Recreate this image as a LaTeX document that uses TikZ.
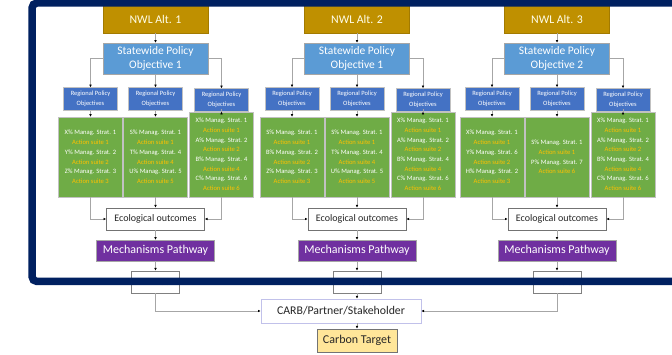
\documentclass[tikz,border=0pt]{standalone}
\usepackage{fontspec}
\setmainfont{Carlito}
\usetikzlibrary{arrows.meta}
\definecolor{navy}{HTML}{002060}
\definecolor{nwlgold}{HTML}{BF9000}
\definecolor{swblue}{HTML}{5B9BD5}
\definecolor{regblue}{HTML}{4472C4}
\definecolor{grnfill}{HTML}{6FAC46}
\definecolor{suite}{HTML}{FFC000}
\definecolor{mechpurple}{HTML}{7030A0}
\definecolor{tgtfill}{HTML}{FFE699}
\definecolor{linegray}{HTML}{A6A6A6}
\newcommand\ms[2]{#1\% Manag. Strat. #2}
\newcommand\as[1]{{\color{suite}Action suite #1}}
\newcommand\drawcol[8]{%
  \node[nwlbox] (n#1) at (#2,19) {NWL Alt. #3};
  \node[swbox] (s#1) at (#2,58.5) {Statewide Policy\\Objective #4};
  \node[regbox] (ra#1) at ({#2-65},99) {Regional Policy\\Objectives};
  \node[regbox] (rb#1) at (#2,99) {Regional Policy\\Objectives};
  \node[regbox] (rc#1) at ({#2+66},100) {Regional Policy\\Objectives};
  \node[grnbox, minimum height=80pt] (ga#1) at ({#2-65},157) {#5};
  \node[grnbox, minimum height=80pt] (gb#1) at (#2,157) {#6};
  \node[grnbox, minimum height=85pt] (gc#1) at ({#2+66},154.5) {#7};
  \node[ecobox] (e#1) at (#2,219) {Ecological outcomes};
  \node[mechbox] (m#1) at (#2,250.5) {Mechanisms Pathway};
  \node[costbox] (c#1) at (#2,282) {Costs (\$)};
  \draw[conn] (n#1) -- (s#1);
  \draw[conn] (s#1.west) -| (ra#1.north);
  \draw[conn] (s#1) -- (rb#1);
  \draw[conn] (s#1.east) -| (rc#1.north);
  \draw[conn] (ra#1) -- (ga#1);
  \draw[conn] (rb#1) -- (gb#1);
  \draw[conn] (rc#1) -- (gc#1);
  \draw[conn] (ga#1.south) |- (e#1.west);
  \draw[conn] (gb#1) -- (e#1);
  \draw[conn] (gc#1.south) |- (e#1.east);
  \draw[conn] (e#1) -- (m#1);
  \draw[conn] (m#1) -- (c#1);
}
\begin{document}
\begin{tikzpicture}[x=1pt,y=-1pt,
  conn/.style={draw=linegray, line width=0.6pt, -{Latex[color=black,length=2.6pt,width=2.6pt]}},
  nwlbox/.style={fill=nwlgold, draw=nwlgold!85!black, line width=0.5pt, inner sep=0pt, minimum width=105pt, minimum height=28pt, text=white!92!yellow, font=\fontsize{11.8}{13}\selectfont},
  swbox/.style={fill=swblue, draw=linegray, line width=0.5pt, inner sep=0pt, minimum width=105pt, minimum height=31pt, align=center, text=white, font=\fontsize{11.5}{14}\selectfont},
  regbox/.style={fill=regblue, draw=linegray!70, line width=0.5pt, inner sep=0pt, minimum width=54pt, minimum height=23pt, align=center, text=white, font=\fontsize{6.5}{10}\selectfont},
  grnbox/.style={fill=grnfill, draw=linegray!70, line width=0.5pt, inner sep=0pt, minimum width=64pt, align=center, text=white, font=\fontsize{6.6}{9.7}\selectfont},
  ecobox/.style={fill=white, draw=gray!90!black, line width=0.8pt, inner sep=0pt, minimum width=98pt, minimum height=22pt, font=\fontsize{10}{12}\selectfont, text=black!85},
  mechbox/.style={fill=mechpurple, draw=linegray, line width=0.5pt, inner sep=0pt, minimum width=118pt, minimum height=21pt, text=white, font=\fontsize{12}{14}\selectfont},
  costbox/.style={fill=white, draw=gray, line width=0.8pt, inner sep=0pt, minimum width=48pt, minimum height=22pt, font=\fontsize{8}{9}\selectfont, text=black!80},
  carbbox/.style={fill=white, draw=linegray!60!blue!40!white, line width=0.8pt, inner sep=0pt, minimum width=160pt, minimum height=24pt, font=\fontsize{11.8}{13}\selectfont, text=black!85},
  tgtbox/.style={fill=tgtfill, draw=gray!90!black, line width=0.8pt, inner sep=0pt, minimum width=80pt, minimum height=23pt, font=\fontsize{12}{13}\selectfont, text=black!85}
]
\useasboundingbox (0,0) rectangle (672,355);
\fill[white] (0,0) rectangle (672,355);

\drawcol{1}{155.5}{1}{1}%
  {\ms{X}{1}\\\as{1}\\\ms{Y}{2}\\\as{2}\\\ms{Z}{3}\\\as{3}}%
  {\ms{S}{1}\\\as{1}\\\ms{T}{4}\\\as{4}\\\ms{U}{5}\\\as{5}}%
  {\ms{X}{1}\\\as{1}\\\ms{A}{2}\\\as{2}\\\ms{B}{4}\\\as{4}\\\ms{C}{6}\\\as{6}}{}
\drawcol{2}{357}{2}{1}%
  {\ms{S}{1}\\\as{1}\\\ms{B}{2}\\\as{2}\\\ms{Z}{3}\\\as{3}}%
  {\ms{S}{1}\\\as{1}\\\ms{T}{4}\\\as{4}\\\ms{U}{5}\\\as{5}}%
  {\ms{X}{1}\\\as{1}\\\ms{A}{2}\\\as{2}\\\ms{B}{4}\\\as{4}\\\ms{C}{6}\\\as{6}}{}
\drawcol{3}{557}{3}{2}%
  {\ms{X}{1}\\\as{1}\\\ms{Y}{6}\\\as{2}\\\ms{H}{2}\\\as{3}}%
  {\ms{S}{1}\\\as{1}\\\ms{P}{7}\\\as{6}}%
  {\ms{X}{1}\\\as{1}\\\ms{A}{2}\\\as{2}\\\ms{B}{4}\\\as{4}\\\ms{C}{6}\\\as{6}}{}

\node[carbbox] (carb) at (341,311) {CARB/Partner/Stakeholder};
\node[tgtbox] (tgt) at (357,340.5) {Carbon Target};
\draw[conn] (c1.south) |- (carb.west);
\draw[conn] (c2.south) -- (c2.south |- carb.north);
\draw[conn] (c3.south) |- (carb.east);
\draw[conn] (tgt.north |- carb.south) -- (tgt.north);

\begin{scope}
  \clip (0,0) rectangle (672,355);
  \draw[navy, line width=7.5pt, rounded corners=5pt] (32,3) rectangle (720,281.5);
\end{scope}
\end{tikzpicture}
\end{document}
